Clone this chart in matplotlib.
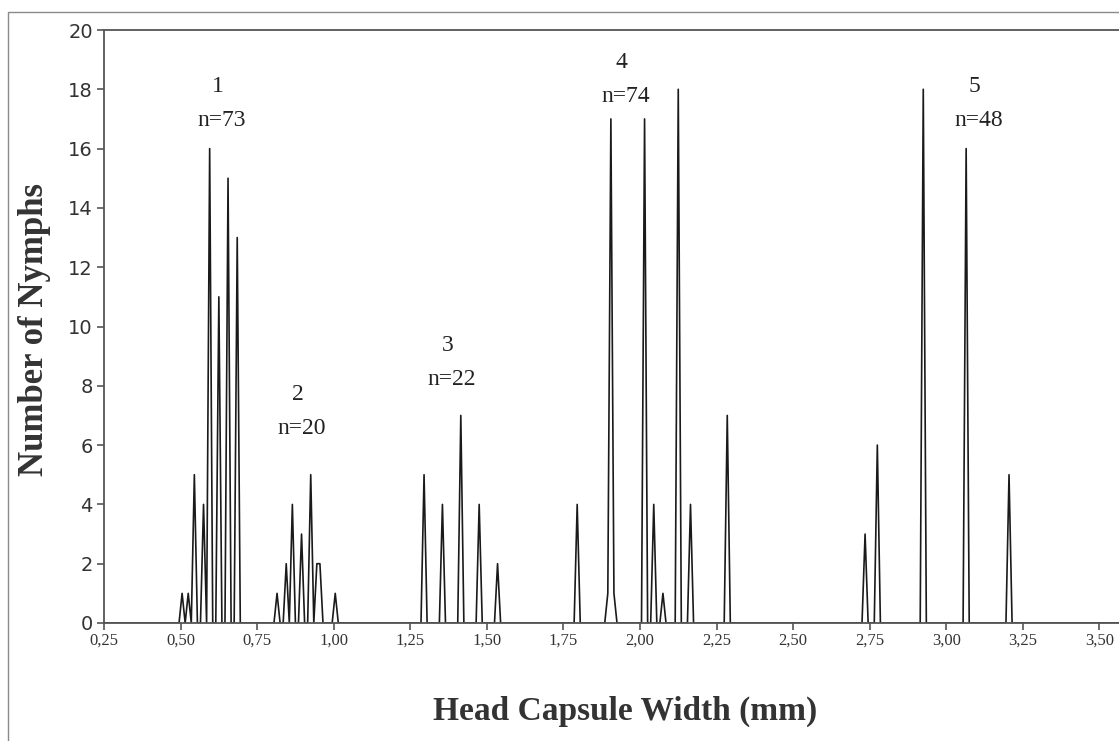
import numpy as np
import matplotlib.pyplot as plt
from matplotlib.patches import Rectangle

# head capsule width classes (mm) with at least one nymph, and their counts
widths = [0.50, 0.52, 0.54, 0.57, 0.59, 0.62, 0.65, 0.68,
          0.81, 0.84, 0.86, 0.89, 0.92, 0.94, 0.95, 1.00,
          1.29, 1.35, 1.41, 1.47, 1.53,
          1.79, 1.89, 1.90, 1.91, 2.01, 2.04, 2.07, 2.12, 2.16, 2.28,
          2.73, 2.77, 2.92, 3.06, 3.20]
counts = [1, 1, 5, 4, 16, 11, 15, 13,
          1, 2, 4, 3, 5, 2, 2, 1,
          5, 4, 7, 4, 2,
          4, 1, 17, 1, 17, 4, 1, 18, 4, 7,
          3, 6, 18, 16, 5]

tick_values = [0.25, 0.50, 0.75, 1.00, 1.25, 1.50, 1.75, 2.00,
               2.25, 2.50, 2.75, 3.00, 3.25, 3.50]
tick_labels = ['0,25', '0,50', '0,75', '1,00', '1,25', '1,50', '1,75', '2,00',
               '2,25', '2,50', '2,75', '3,00', '3,25', '3,50']

instars = ['1', '2', '3', '4', '5']
instar_n = ['n=73', 'n=20', 'n=22', 'n=74', 'n=48']

# all 0.01 mm classes, empty ones are zero
grid = np.round(np.arange(0.25, 3.60, 0.01), 2)
series = np.zeros(len(grid))
for w, c in zip(widths, counts):
    series[np.argmin(np.abs(grid - w))] = c

W, H = 1119, 741
fig = plt.figure(figsize=(W / 100, H / 100), dpi=100)
fig.patch.set_facecolor('white')

# outer chart border
fig.add_artist(Rectangle((8 / W, -0.02), 1.1, 1 - 12 / H + 0.02,
                         transform=fig.transFigure, fill=False,
                         edgecolor='#8a8a8a', linewidth=1.0))

ax = fig.add_axes([104 / W, (H - 623) / H, 1026 / W, 593 / H])
ax.plot(grid, series, color='#1a1a1a', linewidth=1.2)

ax.set_xlim(0.245, 3.595)
ax.set_ylim(0, 20)

# ticks sit between categories (half a class to the left)
ax.set_xticks([t - 0.005 for t in tick_values])
ax.set_xticklabels(tick_labels, fontfamily='Liberation Serif',
                   fontsize=12, color='#333333')
ax.set_yticks(range(0, 21, 2))
ax.set_yticklabels([str(v) for v in range(0, 21, 2)],
                   fontfamily='DejaVu Sans', fontsize=14, color='#333333')
ax.tick_params(direction='out', length=5, width=1.2, color='#555555')
ax.tick_params(axis='x', pad=2)
ax.tick_params(axis='y', pad=3)

for side in ['left', 'bottom', 'top']:
    ax.spines[side].set_color('#555555')
    ax.spines[side].set_linewidth(1.3)
ax.spines['right'].set_visible(False)

# instar annotations
label_pos = [(0.617, 18.1), (0.878, 7.7), (1.368, 9.35), (1.936, 18.9), (3.088, 18.1)]
for (x, y), lab, n in zip(label_pos, instars, instar_n):
    ax.text(x, y, lab, ha='center', va='center', fontfamily='Liberation Serif',
            fontsize=17, color='#222222')
    ax.text(x + 0.012, y - 1.15, n, ha='center', va='center',
            fontfamily='Liberation Serif', fontsize=17, color='#222222')

fig.text(35 / W, 1 - 330 / H, 'Number of Nymphs', rotation=90,
         ha='center', va='center', fontfamily='Liberation Serif',
         fontweight='bold', fontsize=25, color='#333333')
fig.text(625 / W, 1 - 711 / H, 'Head Capsule Width (mm)',
         ha='center', va='center', fontfamily='Liberation Serif',
         fontweight='bold', fontsize=24, color='#333333')

fig.savefig('out.png', dpi=100)
